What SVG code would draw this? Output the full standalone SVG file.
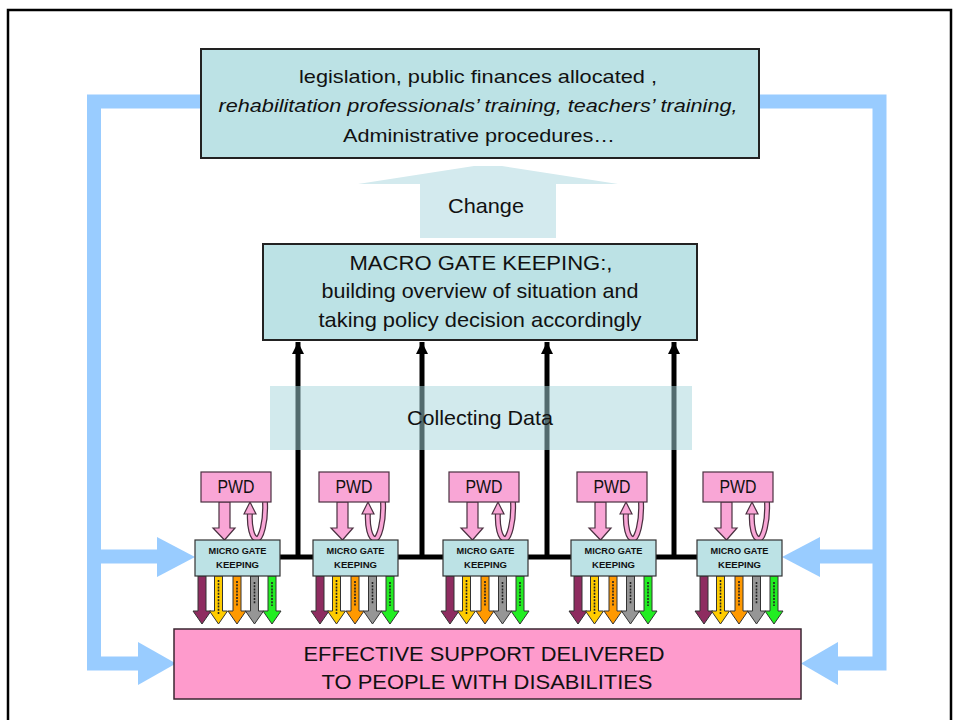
<svg xmlns="http://www.w3.org/2000/svg" xmlns:xlink="http://www.w3.org/1999/xlink" width="955" height="720" viewBox="0 0 955 720">
<style>
text{font-family:"Liberation Sans",Arial,sans-serif;fill:#111;text-anchor:middle}
.teal{fill:#bce2e5;stroke:#222;stroke-width:2}
.pink{fill:#fe9bcc;stroke:#3a2630;stroke-width:1.5}
.pwd{fill:#f9a6d6;stroke:#4a3040;stroke-width:1.2}
.micro{fill:#bce2e5;stroke:#333;stroke-width:1.2}
.blue{fill:none;stroke:#99ccff;stroke-width:14;stroke-linejoin:miter}
.bluehead{fill:#99ccff}
.black{stroke:#000;stroke-width:5;fill:none}
.big{font-size:21px}
.mid{font-size:19px}
.mtext{font-size:9.5px;font-weight:bold}
.ca{stroke:#333;stroke-width:1}
</style>
<defs>
<marker id="ah" markerWidth="3" markerHeight="4" refX="2.4" refY="2" orient="auto" markerUnits="strokeWidth">
<path d="M0,0.8 L2.4,2 L0,3.2 z" fill="#000"/>
</marker>
<g id="unitArrows">
<path d="M24,502 H35 V528 H40 L29.5,540 L18,528 H24 Z" class="pwd"/>
<path d="M70,502 C71,522 66,539 62,539 C57,539 54,526 55,512" fill="none" stroke="#4a3040" stroke-width="6"/>
<path d="M70,502 C71,522 66,539 62,539 C57,539 54,526 55,512" fill="none" stroke="#f9a6d6" stroke-width="3.5"/>
<path d="M49,514 L55,502 L61,514 Z" class="pwd"/>
<path d="M3,576 H11 V611 H16 L7,624 L-2,611 H3 Z" fill="#8e2c60" class="ca"/>
<path d="M19.5,576 H27.5 V611 H32.5 L23.5,624 L14.5,611 H19.5 Z" fill="#ffcc00" class="ca"/>
<path d="M38,576 H46 V611 H51 L42,624 L33,611 H38 Z" fill="#ff9900" class="ca"/>
<path d="M55.5,576 H63.5 V611 H68.5 L59.5,624 L50.5,611 H55.5 Z" fill="#969696" class="ca"/>
<path d="M73,576 H81 V611 H86 L77,624 L68,611 H73 Z" fill="#22ee22" class="ca"/>
<g stroke="#222" stroke-width="1.6" stroke-dasharray="2 1.2">
<line x1="23.5" y1="580" x2="23.5" y2="614"/>
<line x1="42" y1="581" x2="42" y2="606"/>
<line x1="59.5" y1="582" x2="59.5" y2="604"/>
<line x1="77" y1="582" x2="77" y2="606"/>
</g>
</g>
</defs>
<rect width="955" height="720" fill="#fff"/>
<rect x="8" y="10" width="943" height="720" fill="none" stroke="#000" stroke-width="2.5"/>

<g id="connectors">
<path class="blue" d="M202,101.5 H94 V663.5 H140"/>
<path class="blue" d="M94,556.5 H160"/>
<path class="bluehead" d="M138,642 L176,663.5 L138,685 Z"/>
<path class="bluehead" d="M157,537 L195,557 L157,577 Z"/>
<path class="blue" d="M758,101.5 H879.5 V663.5 H835"/>
<path class="blue" d="M879.5,556.5 H818"/>
<path class="bluehead" d="M838,642 L801,663.5 L838,685 Z"/>
<path class="bluehead" d="M820,537 L782,557 L820,577 Z"/>
<line class="black" x1="278" y1="557" x2="699" y2="557"/>
<line class="black" x1="298" y1="557" x2="298" y2="342" marker-end="url(#ah)"/>
<line class="black" x1="422" y1="557" x2="422" y2="342" marker-end="url(#ah)"/>
<line class="black" x1="547" y1="557" x2="547" y2="342" marker-end="url(#ah)"/>
<line class="black" x1="674" y1="557" x2="674" y2="342" marker-end="url(#ah)"/>
<path d="M420,238 V184 H358 L474,166 H502 L618,184 H556 V238 Z" fill="#d3eaee"/>
</g>

<g id="collecting">
<rect x="270" y="386" width="422" height="64" fill="#a6d5db" opacity="0.5"/>
<text class="big" x="480" y="425" textLength="146" lengthAdjust="spacingAndGlyphs">Collecting Data</text>
</g>

<g id="change-label">
<text class="big" x="486" y="213" textLength="76" lengthAdjust="spacingAndGlyphs">Change</text>
</g>

<g id="policy">
<rect class="teal" x="201" y="49" width="558" height="109"/>
<text class="mid" x="478" y="83" textLength="358" lengthAdjust="spacingAndGlyphs">legislation, public finances allocated ,</text>
<text class="mid" x="478" y="112" font-style="italic" textLength="519" lengthAdjust="spacingAndGlyphs">rehabilitation professionals’ training, teachers’ training,</text>
<text class="mid" x="479" y="142" textLength="272" lengthAdjust="spacingAndGlyphs">Administrative procedures…</text>
</g>

<g id="macro">
<rect class="teal" x="263" y="244" width="434" height="96"/>
<text class="big" x="481" y="270" textLength="263" lengthAdjust="spacingAndGlyphs">MACRO GATE KEEPING:,</text>
<text class="big" x="480" y="298" textLength="317" lengthAdjust="spacingAndGlyphs">building overview of situation and</text>
<text class="big" x="480" y="327" textLength="323" lengthAdjust="spacingAndGlyphs">taking policy decision accordingly</text>
</g>

<g id="unit1">
<use xlink:href="#unitArrows" href="#unitArrows" transform="translate(195,0)"/>
<rect class="pwd" x="201" y="472" width="70" height="30"/>
<text x="236" y="493" font-size="18" textLength="37" lengthAdjust="spacingAndGlyphs">PWD</text>
<rect class="micro" x="195" y="540" width="85" height="36"/>
<text class="mtext" x="237.5" y="554" textLength="58" lengthAdjust="spacingAndGlyphs">MICRO GATE</text>
<text class="mtext" x="237.5" y="568" textLength="43" lengthAdjust="spacingAndGlyphs">KEEPING</text>
</g>

<g id="unit2">
<use xlink:href="#unitArrows" href="#unitArrows" transform="translate(313,0)"/>
<rect class="pwd" x="319" y="472" width="70" height="30"/>
<text x="354" y="493" font-size="18" textLength="37" lengthAdjust="spacingAndGlyphs">PWD</text>
<rect class="micro" x="313" y="540" width="85" height="36"/>
<text class="mtext" x="355.5" y="554" textLength="58" lengthAdjust="spacingAndGlyphs">MICRO GATE</text>
<text class="mtext" x="355.5" y="568" textLength="43" lengthAdjust="spacingAndGlyphs">KEEPING</text>
</g>

<g id="unit3">
<use xlink:href="#unitArrows" href="#unitArrows" transform="translate(443,0)"/>
<rect class="pwd" x="449" y="472" width="70" height="30"/>
<text x="484" y="493" font-size="18" textLength="37" lengthAdjust="spacingAndGlyphs">PWD</text>
<rect class="micro" x="443" y="540" width="85" height="36"/>
<text class="mtext" x="485.5" y="554" textLength="58" lengthAdjust="spacingAndGlyphs">MICRO GATE</text>
<text class="mtext" x="485.5" y="568" textLength="43" lengthAdjust="spacingAndGlyphs">KEEPING</text>
</g>

<g id="unit4">
<use xlink:href="#unitArrows" href="#unitArrows" transform="translate(571,0)"/>
<rect class="pwd" x="577" y="472" width="70" height="30"/>
<text x="612" y="493" font-size="18" textLength="37" lengthAdjust="spacingAndGlyphs">PWD</text>
<rect class="micro" x="571" y="540" width="85" height="36"/>
<text class="mtext" x="613.5" y="554" textLength="58" lengthAdjust="spacingAndGlyphs">MICRO GATE</text>
<text class="mtext" x="613.5" y="568" textLength="43" lengthAdjust="spacingAndGlyphs">KEEPING</text>
</g>

<g id="unit5">
<use xlink:href="#unitArrows" href="#unitArrows" transform="translate(697,0)"/>
<rect class="pwd" x="703" y="472" width="70" height="30"/>
<text x="738" y="493" font-size="18" textLength="37" lengthAdjust="spacingAndGlyphs">PWD</text>
<rect class="micro" x="697" y="540" width="85" height="36"/>
<text class="mtext" x="739.5" y="554" textLength="58" lengthAdjust="spacingAndGlyphs">MICRO GATE</text>
<text class="mtext" x="739.5" y="568" textLength="43" lengthAdjust="spacingAndGlyphs">KEEPING</text>
</g>

<g id="support">
<rect class="pink" x="174" y="629" width="627" height="70"/>
<text class="big" x="484" y="661" textLength="361" lengthAdjust="spacingAndGlyphs">EFFECTIVE SUPPORT DELIVERED</text>
<text class="big" x="487" y="689" textLength="331" lengthAdjust="spacingAndGlyphs">TO PEOPLE WITH DISABILITIES</text>
</g>
</svg>
